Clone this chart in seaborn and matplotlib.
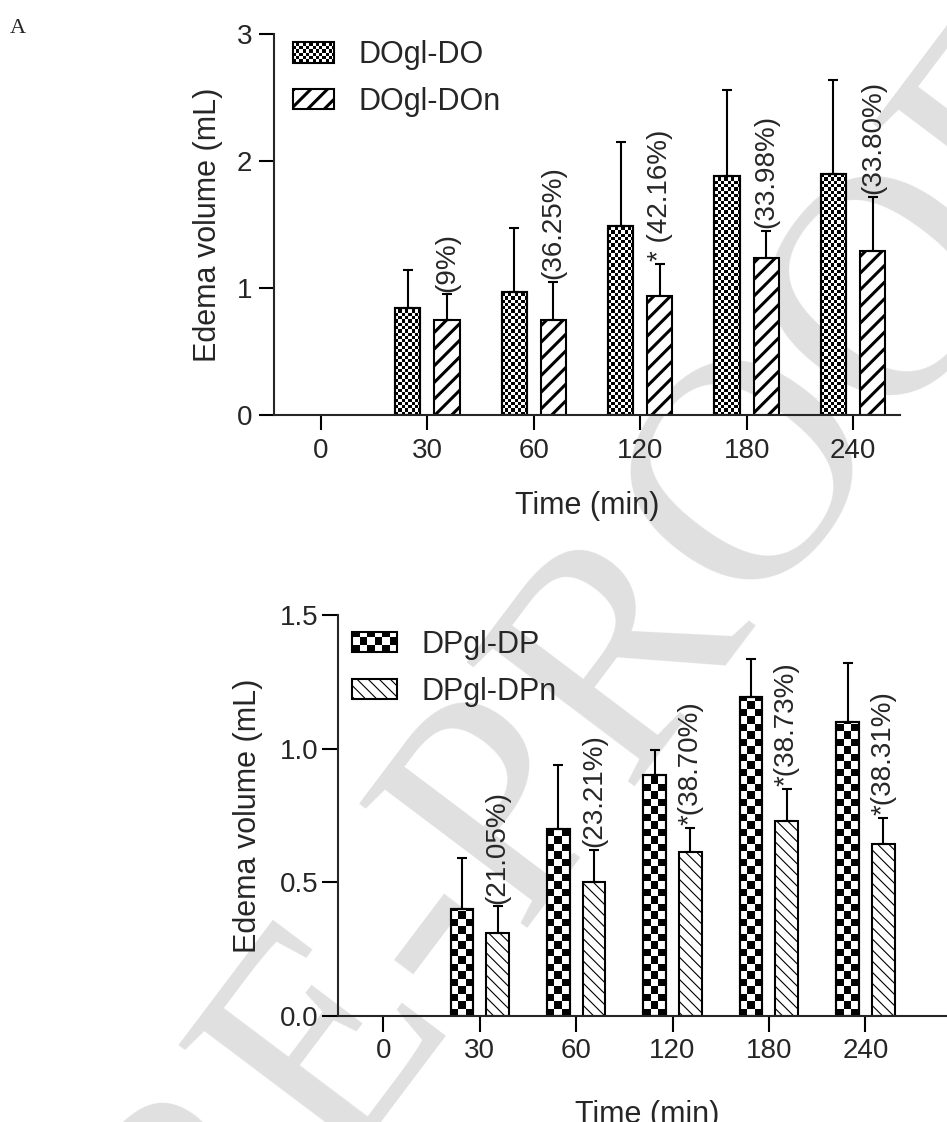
import numpy as np
import pandas as pd
import matplotlib
matplotlib.use('Agg')
import matplotlib.pyplot as plt
import seaborn as sns
from matplotlib.patches import Rectangle, Patch
from matplotlib.collections import PatchCollection
from matplotlib.legend_handler import HandlerBase

# data
times = ['0', '30', '60', '120', '180', '240']

do_names = ['DOgl-DO', 'DOgl-DOn']
do_mean = [np.nan, 0.84, 0.97, 1.49, 1.88, 1.90]
do_sd = [np.nan, 0.30, 0.50, 0.66, 0.68, 0.74]
don_mean = [np.nan, 0.75, 0.745, 0.94, 1.24, 1.29]
don_sd = [np.nan, 0.20, 0.305, 0.25, 0.21, 0.43]
don_notes = ['', '(9%)', '(36.25%)', '* (42.16%)', '(33.98%)', '(33.80%)']

dp_names = ['DPgl-DP', 'DPgl-DPn']
dp_mean = [np.nan, 0.40, 0.70, 0.90, 1.195, 1.10]
dp_sd = [np.nan, 0.19, 0.24, 0.095, 0.14, 0.22]
dpn_mean = [np.nan, 0.31, 0.50, 0.615, 0.73, 0.645]
dpn_sd = [np.nan, 0.10, 0.12, 0.09, 0.12, 0.095]
dpn_notes = ['', '(21.05%)', '(23.21%)', '*(38.70%)', '*(38.73%)', '*(38.31%)']

DPI = 100
LW = 1.5

sns.set_style('ticks')
plt.rcParams['font.family'] = ['Liberation Sans', 'DejaVu Sans']
plt.rcParams['axes.linewidth'] = LW


def checker_cells(x0, y0, w, h, sx, sy):
    # black squares of a checkerboard inside a rectangle
    cells = []
    nx = int(np.ceil(w / sx - 1e-6))
    ny = int(np.ceil(h / sy - 1e-6))
    for i in range(nx):
        for j in range(ny):
            if (i + j) % 2 == 0:
                cx = x0 + i * sx
                cy = y0 + j * sy
                cells.append(Rectangle((cx, cy), min(sx, x0 + w - cx), min(sy, y0 + h - cy)))
    return cells


class Swatch(HandlerBase):
    def __init__(self, cell=None, hatch=None, hatch_lw=1.0):
        super().__init__()
        self.cell = cell
        self.hatch = hatch
        self.hatch_lw = hatch_lw

    def create_artists(self, legend, orig_handle, xdescent, ydescent, width, height, fontsize, trans):
        x0, y0 = -xdescent, -ydescent
        arts = [Rectangle((x0, y0), width, height, facecolor='white', edgecolor='none', transform=trans)]
        if self.cell:
            c = self.cell * 72 / DPI
            arts.append(PatchCollection(checker_cells(x0, y0, width, height, c, c),
                                        facecolor='black', edgecolor='none', transform=trans))
        frame = Rectangle((x0, y0), width, height, facecolor='none', edgecolor='black',
                          linewidth=LW, hatch=self.hatch, transform=trans)
        if self.hatch:
            frame.set_hatch_linewidth(self.hatch_lw)
        arts.append(frame)
        return arts


def panel(ax, names, mean_a, sd_a, mean_b, sd_b, notes, cell, hatch, hatch_lw,
          xlim, ylim, yticks, tick_len, ypad, xpad, leg_anchor, handlelength):
    df = pd.DataFrame({
        'Time': times * 2,
        'Group': [names[0]] * len(times) + [names[1]] * len(times),
        'Volume': list(mean_a) + list(mean_b),
    }).dropna()
    sns.barplot(data=df, x='Time', y='Volume', hue='Group', order=times, hue_order=names,
                palette={names[0]: 'white', names[1]: 'white'}, saturation=1,
                edgecolor='black', linewidth=LW, width=0.74, gap=0.365,
                errorbar=None, legend=False, ax=ax)
    ax.set_xlim(*xlim)
    ax.set_ylim(*ylim)
    ax.patch.set_facecolor('none')
    bars_a, bars_b = list(ax.containers[0]), list(ax.containers[1])

    # checkerboard fill
    x_px = ax.transData.transform((1, 0))[0] - ax.transData.transform((0, 0))[0]
    y_px = ax.transData.transform((0, 1))[1] - ax.transData.transform((0, 0))[1]
    for bar in bars_a:
        x0, y0, w, h = bar.get_x(), bar.get_y(), bar.get_width(), bar.get_height()
        z = bar.get_zorder()
        ax.add_collection(PatchCollection(checker_cells(x0, y0, w, h, cell / x_px, cell / y_px),
                                          facecolor='black', edgecolor='none', zorder=z + 0.1),
                          autolim=False)
        ax.add_patch(Rectangle((x0, y0), w, h, fill=False, edgecolor='black',
                               linewidth=LW, zorder=z + 0.2))
    for bar in bars_b:
        bar.set_hatch(hatch)
        bar.set_hatch_linewidth(hatch_lw)

    # one-sided SD bars and percentage notes
    for bars, sds, is_b in ((bars_a, sd_a, False), (bars_b, sd_b, True)):
        xs, tops, errs = [], [], []
        for bar in bars:
            xc = bar.get_x() + bar.get_width() / 2
            i = int(round(xc))
            xs.append(xc)
            tops.append(bar.get_height())
            errs.append(sds[i])
            if is_b:
                ax.annotate(notes[i], (xc, bar.get_height() + sds[i]), xytext=(0, 2),
                            textcoords='offset points', rotation=90, ha='center',
                            va='bottom', fontsize=20)
        ax.errorbar(xs, tops, yerr=[np.zeros(len(errs)), errs], fmt='none', ecolor='black',
                    elinewidth=LW, capsize=3.3, capthick=LW, zorder=3)

    ax.set_xlim(*xlim)
    ax.set_ylim(*ylim)
    ax.set_yticks(yticks)
    sns.despine(ax=ax)
    ax.tick_params(axis='both', labelsize=20, length=tick_len, width=LW, color='black')
    ax.tick_params(axis='y', pad=ypad)
    ax.tick_params(axis='x', pad=xpad)
    ax.set_xlabel('Time (min)', fontsize=22)
    ax.set_ylabel('Edema volume (mL)', fontsize=22)

    handles = [Patch(), Patch()]
    ax.legend(handles, names, handler_map={handles[0]: Swatch(cell=cell),
                                           handles[1]: Swatch(hatch=hatch, hatch_lw=hatch_lw)},
              loc='upper left', bbox_to_anchor=leg_anchor, frameon=False, fontsize=22,
              borderaxespad=0, borderpad=0, handlelength=handlelength, handleheight=0.65,
              handletextpad=0.8, labelspacing=0.55)


fig = plt.figure(figsize=(947 / DPI, 1122 / DPI), dpi=DPI)
# page watermark behind the charts
fig.text(1.14, 0.94, 'JOURNAL PRE-PROOF', rotation=53, rotation_mode='anchor',
         ha='right', va='center', fontsize=230, color='#e0e0e0',
         family='Liberation Serif', zorder=-5)
fig.text(10 / 947, 1 - 33 / 1122, 'A', family='Liberation Serif', fontsize=16, va='baseline')

ax1 = fig.add_axes([274 / 947, 1 - 415 / 1122, 626 / 947, 381 / 1122])
panel(ax1, do_names, do_mean, do_sd, don_mean, don_sd, don_notes,
      cell=3.3, hatch='//', hatch_lw=2.2, xlim=(-0.44, 5.44), ylim=(0, 3), yticks=[0, 1, 2, 3],
      tick_len=10.5, ypad=5, xpad=6, leg_anchor=(0.03, 0.984), handlelength=1.34)
ax1.yaxis.set_label_coords(-0.082, 0.5)
ax1.xaxis.set_label_coords(0.5, -0.2)

ax2 = fig.add_axes([338 / 947, 1 - 1016 / 1122, 618 / 947, 401 / 1122])
panel(ax2, dp_names, dp_mean, dp_sd, dpn_mean, dpn_sd, dpn_notes,
      cell=7.5, hatch='\\\\\\', hatch_lw=0.8, xlim=(-0.47, 5.94), ylim=(0, 1.5),
      yticks=[0, 0.5, 1.0, 1.5], tick_len=11.5, ypad=2.5, xpad=4.5,
      leg_anchor=(0.023, 0.963), handlelength=1.47)
ax2.yaxis.set_label_coords(-0.121, 0.5)
ax2.xaxis.set_label_coords(0.5, -0.21)

fig.savefig('out.png', dpi=DPI)
